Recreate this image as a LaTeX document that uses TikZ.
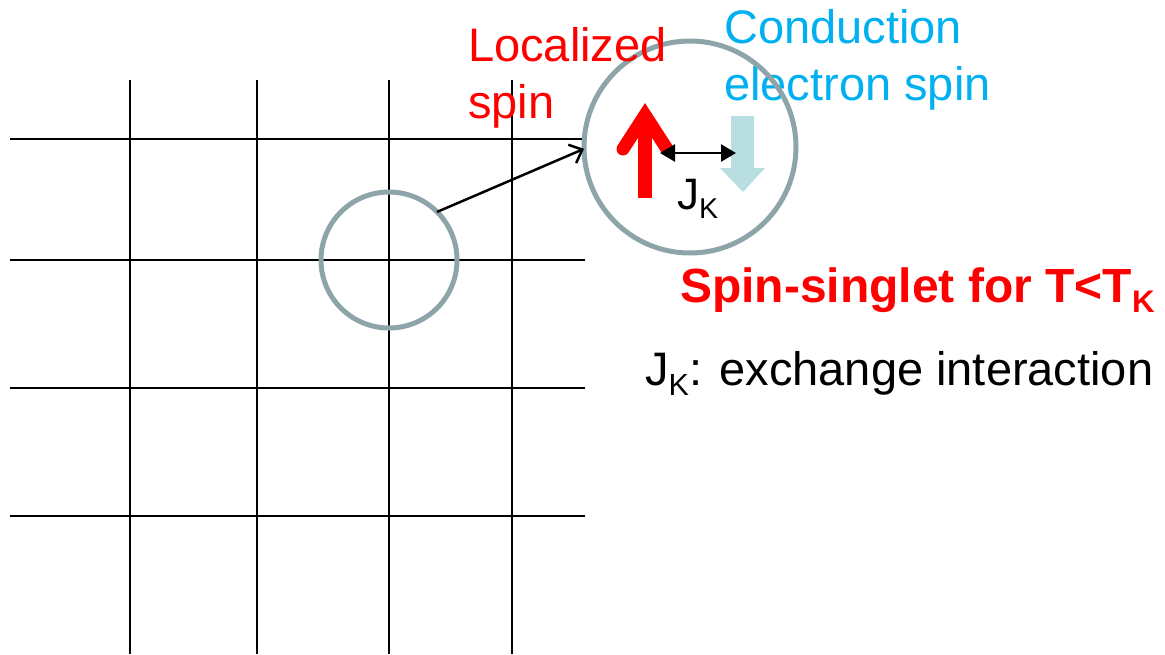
\documentclass[tikz,border=0pt]{standalone}
\usepackage{fontspec}
\setmainfont{Liberation Sans}
\usetikzlibrary{arrows.meta}
\definecolor{ringgray}{HTML}{8DA5A8}
\definecolor{condblue}{HTML}{00B0F0}
\definecolor{paleblue}{HTML}{B8DEE2}
\newcommand{\lowsub}[1]{\raisebox{-0.22em}{\scalebox{0.65}{#1}}}
\tikzset{
  ring/.style={circle, draw=ringgray, line width=5pt, inner sep=0pt, outer sep=0pt},
  bigtext/.style={font=\fontsize{47}{57}\selectfont, inner sep=0pt, align=left},
  boldtext/.style={font=\fontsize{48}{57}\selectfont\bfseries, inner sep=0pt},
}
\begin{document}
\begin{tikzpicture}[x=1pt, y=-1pt, >=Stealth]
\useasboundingbox (0,0) rectangle (1165,654);

% ==================== lattice ====================
\foreach \gx in {130,257,389,512}
  \draw[line width=2pt] (\gx,80) -- (\gx,654);
\foreach \gy in {139,260,388,516}
  \draw[line width=2pt] (10,\gy) -- (585,\gy);

% ==================== labels above ====================
\node[bigtext, text=condblue, anchor=north west] (cond) at (724,9) {Conduction\\electron spin};

% ==================== circles ====================
\node[ring, minimum size=136pt] (site) at (389,260) {};
\node[ring, minimum size=212pt] (zoomin) at (690,147) {};
\draw[line width=2.5pt, -{Straight Barb[length=11pt,width=20pt]}] (site.45) -- (zoomin.181);

\node[bigtext, text=red, anchor=north west] (loc) at (468,27) {Localized\\spin};

% ==================== spins inside ====================
\fill[red] (638,198) rectangle (652,120);
\draw[red, line width=13pt, line cap=round, miter limit=10] (623,149) -- (645,115) -- (667,149);
\fill[paleblue] (731,116) -- (754,116) -- (754,168) -- (765,168) -- (743,192) -- (720,168) -- (731,168) -- cycle;

\coordinate (jl) at (660,153);
\coordinate (jr) at (736,153);
\draw[line width=2.5pt, {Triangle[length=15pt,width=17pt]}-{Triangle[length=15pt,width=17pt]}] (jl) -- (jr);
\node[font=\fontsize{44}{50}\selectfont, inner sep=0pt, anchor=base west] (jk) at (677,209) {J\lowsub{K}};

% ==================== texts right ====================
\node[boldtext, text=red, anchor=base west] (singlet) at (680,302) {Spin-singlet for T<T\lowsub{K}};
\node[bigtext, anchor=base west] (jdef) at (645,385) {J\lowsub{K}: exchange interaction};

\end{tikzpicture}
\end{document}
